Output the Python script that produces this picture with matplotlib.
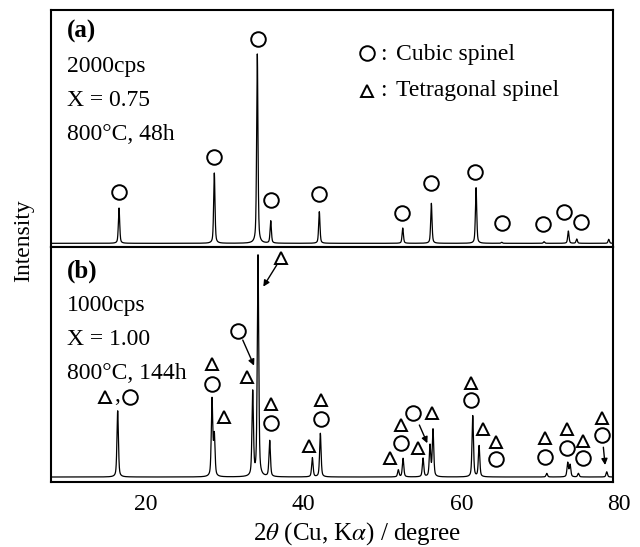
import numpy as np
import matplotlib.pyplot as plt

plt.rcParams['font.family'] = ['Liberation Serif', 'DejaVu Serif']
plt.rcParams['mathtext.fontset'] = 'stix'
plt.rcParams['font.size'] = 17

# (a) X = 0.75 : peak positions (2theta) and peak tops (cps)
a_pos = [16.68, 28.74, 34.18, 35.88, 42.03, 52.59, 56.21, 61.87, 65.12, 70.47, 73.55, 74.61, 78.66]
a_int = [390, 740, 1930, 260, 353, 190, 437, 593, 47, 53, 160, 80, 77]
a_base = 37

# (b) X = 1.00
b_pos = [16.51, 28.45, 28.74, 33.60, 34.27, 35.75, 41.15, 42.16, 52.03, 52.63, 55.16,
         56.04, 56.42, 61.45, 62.25, 70.82, 73.47, 73.77, 74.82, 78.41]
b_int = [356, 410, 226, 446, 1130, 205, 121, 243, 60, 118, 118,
         180, 260, 331, 180, 43, 96, 85, 43, 51]
b_base = 25

# phase marks
a_cubic_x = [16.68, 28.74, 34.27, 35.96, 42.03, 52.46, 56.17, 61.70, 65.20, 70.39, 73.04, 75.20]
a_cubic_y = [547, 897, 2080, 470, 527, 337, 643, 747, 237, 230, 353, 253]

b_cubic_x = [18.07, 28.45, 31.70, 35.96, 42.21, 52.34, 53.93, 61.23, 64.40, 70.60, 73.35, 75.45, 77.78]
b_cubic_y = [425, 489, 755, 294, 314, 194, 344, 410, 114, 127, 172, 119, 235]
b_tetra_x = [14.90, 28.45, 29.93, 32.92, 37.15, 35.96, 40.69, 42.21, 50.98, 52.34, 54.56,
             56.30, 61.23, 62.72, 64.40, 70.60, 73.35, 75.45, 77.78]
b_tetra_y = [424, 592, 324, 524, 1119, 389, 179, 410, 119, 285, 172,
             347, 494, 265, 202, 222, 265, 205, 322]

# arrows (tail -> head)
b_arrows = [((36.64, 1085), (34.94, 977)),
            ((32.34, 710), (33.77, 582)),
            ((54.69, 285), (55.70, 194)),
            ((77.98, 174), (78.20, 85))]

tt = np.arange(8.0, 80.0, 0.01)


def pattern(pos, tops, base, fwhm):
    y = np.full_like(tt, base, dtype=float)
    hw = fwhm / 2
    for p, h in zip(pos, tops):
        d = (tt - p) / hw
        y += (h - base) * (0.5 / (1 + d**2) + 0.5 * np.exp(-np.log(2) * d**2))
    return y


fig = plt.figure(figsize=(6.4, 5.47), dpi=100)
ax1 = fig.add_axes([0.0797, 0.5484, 0.8781, 0.4333])
ax2 = fig.add_axes([0.0797, 0.1188, 0.8781, 0.4296])

ax1.plot(tt, pattern(a_pos, a_int, a_base, 0.2), color='k', lw=0.9)
ax2.plot(tt, pattern(b_pos, b_int, b_base, 0.22), color='k', lw=0.9)

circ = dict(ls='none', marker='o', ms=10.5, mfc='none', mec='k', mew=1.4)
tri = dict(ls='none', marker='^', ms=8.5, mfc='none', mec='k', mew=1.4)

ax1.plot(a_cubic_x, a_cubic_y, **circ)
ax2.plot(b_cubic_x, b_cubic_y, **circ)
ax2.plot(b_tetra_x, b_tetra_y, **tri)
ax2.text(16.42, 405, ',', ha='center', va='baseline', fontsize=17)
for tail, head in b_arrows:
    ax2.annotate('', xy=head, xytext=tail,
                 arrowprops=dict(arrowstyle='-|>', color='k', lw=1.0, mutation_scale=9,
                                 shrinkA=0, shrinkB=0))

for ax, top in ((ax1, 2370), (ax2, 1175)):
    ax.set_xlim(8.07, 79.2)
    ax.set_ylim(0, top)
    ax.set_yticks([])
    for s in ax.spines.values():
        s.set_linewidth(1.5)

ax1.set_xticks([])
ax2.set_xticks([20, 40, 60])
ax2.tick_params(axis='x', length=0, pad=8.5, labelsize=17)
ax2.annotate('80', xy=(80, 0), xycoords=ax2.get_xaxis_transform(),
             xytext=(0, -8.5), textcoords='offset points', ha='center', va='top', fontsize=17)

# panel captions
ax1.text(0.029, 0.882, '(a)', transform=ax1.transAxes, fontsize=18, fontweight='bold')
for y, s in zip([0.738, 0.595, 0.451], ['2000cps', 'X = 0.75', '800°C, 48h']):
    ax1.text(0.029, y, s, transform=ax1.transAxes)
ax2.text(0.029, 0.869, '(b)', transform=ax2.transAxes, fontsize=18, fontweight='bold')
for y, s in zip([0.728, 0.583, 0.437], ['1000cps', 'X = 1.00', '800°C, 144h']):
    ax2.text(0.029, y, s, transform=ax2.transAxes)

# key
ax1.plot([0.562], [0.817], transform=ax1.transAxes, **circ)
ax1.plot([0.562], [0.658], transform=ax1.transAxes, **tri)
for y, s in ((0.789, 'Cubic spinel'), (0.639, 'Tetragonal spinel')):
    ax1.text(0.585, y, ':', transform=ax1.transAxes)
    ax1.text(0.614, y, s, transform=ax1.transAxes)

fig.text(0.0375, 0.561, 'Intensity', rotation=90, ha='center', va='center')
fig.text(0.558, 0.013, r'2$\theta$ (Cu, K$\alpha$) / degree', ha='center', va='baseline', fontsize=18)

fig.savefig('out.png', dpi=100)
